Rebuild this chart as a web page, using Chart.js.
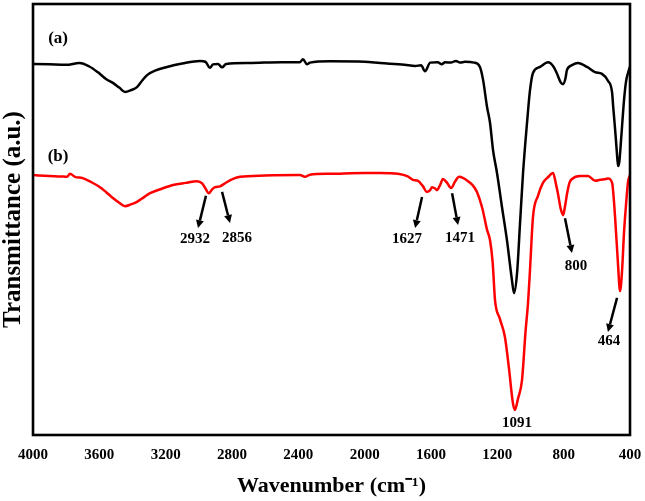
<!DOCTYPE html>
<html>
<head>
<meta charset="utf-8">
<script src="https://cdn.jsdelivr.net/npm/chart.js@4/dist/chart.umd.min.js"></script>
<style>
  html, body { margin: 0; padding: 0; background: #fff; }
  #wrap { width: 645px; height: 501px; position: relative; }
</style>
</head>
<body>
<div id="wrap"><canvas id="c"></canvas></div>
<script>
// ---- Data ----
const xTickValues = [4000, 3600, 3200, 2800, 2400, 2000, 1600, 1200, 800, 400];

const wnA = [4000,3900,3800,3720,3660,3610,3560,3518,3480,3445,3410,3373,3340,3312,3260,3192,3100,2993,2960,2933,2915,2885,2860,2835,2700,2500,2390,2372,2348,2330,2209,2000,1907,1760,1696,1660,1636,1605,1560,1535,1515,1480,1450,1425,1395,1340,1305,1286,1262,1244,1226,1202,1172,1142,1112,1099,1081,1063,1045,1021,1003,985,943,894,860,840,818,804,790,780,750,714,659,611,569,533,508,502,490,480,472,464,454,436,424,412,400];
const trA = [86.1,86.0,85.9,86.3,85.5,84.2,82.6,81.7,80.6,79.6,80.0,80.7,82.3,83.5,84.6,85.4,86.2,86.8,86.6,85.2,86.0,86.1,85.3,86.1,86.3,86.5,86.5,87.2,86.0,86.4,86.7,86.6,86.3,85.9,85.6,85.8,84.4,86.4,86.5,86.0,86.5,86.4,86.8,86.4,86.6,86.4,85.4,82.4,76.1,72.4,66.1,60.8,52.9,45.2,36.0,32.9,37.6,49.2,60.8,72.4,80.0,84.0,85.4,86.5,85.4,83.8,81.8,81.4,82.6,84.7,85.8,86.3,85.4,84.2,83.8,82.2,79.5,76.5,71.0,66.0,62.4,63.5,68.4,77.7,82.0,84.0,85.5];

const wnB = [4000,3900,3830,3795,3777,3747,3700,3650,3596,3560,3518,3480,3445,3410,3373,3330,3294,3220,3156,3080,3011,2980,2960,2939,2920,2902,2872,2850,2830,2790,2752,2600,2390,2360,2330,2209,2000,1907,1800,1740,1709,1680,1650,1625,1605,1594,1575,1564,1545,1528,1505,1479,1455,1431,1405,1377,1350,1323,1290,1262,1244,1228,1214,1185,1154,1130,1106,1094,1075,1051,1030,1015,1003,985,955,925,895,864,848,834,818,804,792,780,765,750,701,653,610,581,545,533,508,490,472,460,448,436,424,412,400];
const trB = [60.3,60.1,60.0,59.9,60.6,59.9,59.6,58.7,57.5,56.4,55.0,53.9,53.1,53.5,54.1,55.2,56.1,57.2,58.0,58.5,58.9,58.4,57.2,56.1,57.0,57.5,57.7,58.2,58.7,59.5,59.9,60.2,60.3,59.9,60.4,60.6,60.8,60.8,60.6,60.0,59.2,59.0,57.8,56.4,56.8,57.5,57.2,56.8,58.0,59.4,58.6,57.3,58.8,59.9,59.6,58.9,58.0,56.4,52.5,47.6,45.2,40.0,31.3,27.0,22.7,15.5,7.4,5.8,8.5,12.8,24.0,30.6,38.3,50.6,55.5,58.5,59.8,60.8,58.5,55.9,52.5,51.0,53.0,55.9,58.5,59.4,60.1,60.1,59.0,59.2,59.4,59.5,58.5,50.6,39.4,33.4,38.0,47.0,53.4,58.7,60.3];

// Peak annotations (data units: wavenumber, transmittance a.u.)
const peakLabels  = ['2932', '2856', '1627', '1471', '1091', '800', '464'];
const labelWn     = [3023, 2770, 1745, 1425, 1081, 726, 527];
const labelTr     = [45.5, 45.7, 45.5, 45.7, 2.8, 39.2, 21.8];
const arrowFromWn = [2957, 2860, 1654, 1473, null, 792, 478];
const arrowFromTr = [55.5, 56.4, 55.2, 56.1, null, 50.3, 31.8];
const arrowToWn   = [3005, 2812, 1696, 1437, null, 750, 533];
const arrowToTr   = [48.0, 49.2, 48.0, 48.7, null, 42.2, 23.9];

const panelLabels = ['(a)', '(b)'];
const panelWn     = [3849, 3849];
const panelTr     = [91.9, 64.5];

// ---- Chart ----
const SERIF = "'Liberation Serif', 'Times New Roman', serif";

const annotPlugin = {
  id: 'annot',
  afterDatasetsDraw(chart) {
    const ctx = chart.ctx;
    const xs = chart.scales.x, ys = chart.scales.y;
    const ca = chart.chartArea;
    ctx.save();
    ctx.strokeStyle = '#000';
    ctx.lineWidth = 2.6;
    ctx.strokeRect(ca.left, ca.top, ca.right - ca.left, ca.bottom - ca.top);
    ctx.fillStyle = '#000';
    for (let i = 0; i < peakLabels.length; i++) {
      if (arrowFromWn[i] !== null) {
        const x1 = xs.getPixelForValue(arrowFromWn[i]);
        const y1 = ys.getPixelForValue(arrowFromTr[i]);
        const x2 = xs.getPixelForValue(arrowToWn[i]);
        const y2 = ys.getPixelForValue(arrowToTr[i]);
        const ang = Math.atan2(y2 - y1, x2 - x1);
        const hl = 8, hw = 4;
        const bx = x2 - hl * Math.cos(ang), by = y2 - hl * Math.sin(ang);
        ctx.lineWidth = 2.5;
        ctx.beginPath();
        ctx.moveTo(x1, y1);
        ctx.lineTo(bx, by);
        ctx.stroke();
        ctx.beginPath();
        ctx.moveTo(x2, y2);
        ctx.lineTo(bx + hw * Math.sin(ang), by - hw * Math.cos(ang));
        ctx.lineTo(bx - hw * Math.sin(ang), by + hw * Math.cos(ang));
        ctx.closePath();
        ctx.fill();
      }
      ctx.font = "bold 15px " + SERIF;
      ctx.textAlign = 'center';
      ctx.textBaseline = 'middle';
      ctx.fillText(peakLabels[i], xs.getPixelForValue(labelWn[i]), ys.getPixelForValue(labelTr[i]));
    }
    ctx.font = "bold 17px " + SERIF;
    for (let i = 0; i < panelLabels.length; i++) {
      ctx.fillText(panelLabels[i], xs.getPixelForValue(panelWn[i]), ys.getPixelForValue(panelTr[i]));
    }
    ctx.restore();
  }
};

new Chart(document.getElementById('c'), {
  type: 'line',
  data: {
    datasets: [
      { label: '(a)', data: wnA.map((w, i) => ({ x: w, y: trA[i] })), borderColor: '#000000', borderWidth: 2.5, pointRadius: 0, cubicInterpolationMode: 'monotone', fill: false },
      { label: '(b)', data: wnB.map((w, i) => ({ x: w, y: trB[i] })), borderColor: '#ff0000', borderWidth: 2.5, pointRadius: 0, cubicInterpolationMode: 'monotone', fill: false }
    ]
  },
  options: {
    responsive: true,
    maintainAspectRatio: false,
    animation: false,
    layout: { padding: { left: 0, right: 15, top: 4, bottom: 0 } },
    plugins: { legend: { display: false }, tooltip: { enabled: false } },
    scales: {
      x: {
        type: 'linear',
        min: 400, max: 4000, reverse: true,
        grid: { display: false, drawTicks: false },
        border: { display: false },
        afterBuildTicks: (s) => { s.ticks = xTickValues.map(v => ({ value: v })); },
        afterFit: (s) => { s.height = 66; s.paddingLeft = 0; s.paddingRight = 0; },
        ticks: { color: '#000', padding: 11, maxRotation: 0, autoSkip: false, callback: (v) => String(v), font: { family: SERIF, size: 15, weight: 'bold' } },
        title: { display: true, text: 'Wavenumber (cm\u207B\u00B9)', color: '#000', font: { family: SERIF, size: 22, weight: 'bold' }, padding: { top: 0, bottom: 1 } }
      },
      y: {
        min: 0, max: 100,
        grid: { display: false, drawTicks: false },
        border: { display: false },
        ticks: { display: false },
        afterFit: (s) => { s.width = 33; },
        title: { display: true, text: 'Transmittance (a.u.)', color: '#000', font: { family: SERIF, size: 25, weight: 'bold' }, padding: { top: -1, bottom: 0 } }
      }
    }
  },
  plugins: [annotPlugin]
});
</script>
</body>
</html>
